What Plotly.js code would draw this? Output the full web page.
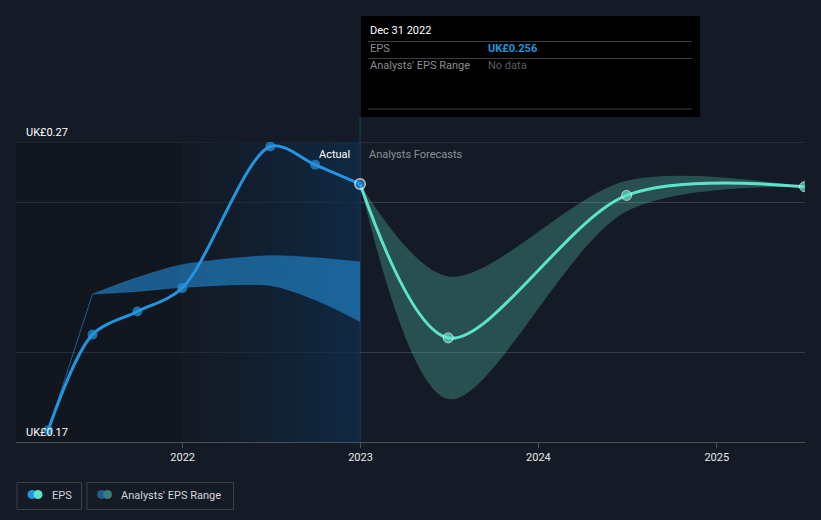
<!DOCTYPE html>
<html>
<head>
<meta charset="utf-8">
<script src="https://cdn.plot.ly/plotly-3.0.1.min.js"></script>
<style>
  html, body { margin: 0; padding: 0; background: #151b26; }
  #chart { width: 821px; height: 520px; }
</style>
</head>
<body>
<div id="chart"></div>
<script>
// ---- data ----
const epsDates = ['2021-03-31', '2021-06-30', '2021-09-30', '2021-12-31', '2022-06-30', '2022-09-30', '2022-12-31'];
const epsValues = [0.1739, 0.2058, 0.2135, 0.2213, 0.2685, 0.2624, 0.256];

const forecastDates = ['2022-12-31', '2023-06-30', '2024-06-30', '2025-06-30'];
const forecastValues = [0.256, 0.2047, 0.2522, 0.2551];

const pastRangeDates = ['2021-03-31', '2021-06-30', '2021-09-30', '2021-12-31', '2022-06-30', '2022-09-30', '2022-12-31'];
const pastRangeLow = [0.1739, 0.2193, 0.2202, 0.2215, 0.2222, 0.2174, 0.2102];
const pastRangeHigh = [0.1739, 0.2193, 0.2248, 0.2291, 0.2321, 0.2314, 0.2300];

const forecastRangeDates = ['2022-12-31', '2023-06-30', '2024-06-30', '2025-06-30'];
const forecastRangeLow = [0.256, 0.1843, 0.2469, 0.2551];
const forecastRangeHigh = [0.256, 0.2252, 0.2571, 0.2551];

const xTickVals = ['2022-01-01', '2023-01-01', '2024-01-01', '2025-01-01'];
const xTickText = ['2022', '2023', '2024', '2025'];
const yGridVals = [0.20, 0.25, 0.27];
const yRange = [0.17, 0.27];
const xRange = ['2021-01-24', '2025-07-01'];
const yLabelTop = 'UK£0.27';
const yLabelBottom = 'UK£0.17';

const tooltipDate = 'Dec 31 2022';
const tooltipEps = 'UK£0.256';
const tooltipRange = 'No data';
const pastStart = xRange[0];
const actualStart = '2021-12-31';
const todayDate = '2022-12-31';

// ---- layout helpers (pixel -> paper) ----
const M = { l: 16, r: 16, t: 142, b: 78 };
const W = 821, H = 520;
const PW = W - M.l - M.r, PH = H - M.t - M.b;
const px = x => (x - M.l) / PW;
const py = y => (H - M.b - y) / PH;

const BLUE = '#2394df';
const TEAL = '#5de2cb';
const FONT = 'Roboto, "Open Sans", sans-serif';

const traces = [
  // darker past background
  {
    x: [pastStart, actualStart, actualStart, pastStart, pastStart],
    y: [yRange[0], yRange[0], yRange[1], yRange[1], yRange[0]],
    mode: 'lines', line: { width: 0 }, fill: 'toself',
    fillcolor: 'rgba(10,12,18,0.3)',
    hoverinfo: 'skip', showlegend: false
  },
  // actual-year highlight
  {
    x: [actualStart, todayDate, todayDate, actualStart, actualStart],
    y: [yRange[0], yRange[0], yRange[1], yRange[1], yRange[0]],
    mode: 'lines', line: { width: 0 }, fill: 'toself',
    fillgradient: { type: 'horizontal', colorscale: [[0, 'rgba(16,24,34,0.5)'], [1, 'rgba(14,46,76,0.8)']] },
    hoverinfo: 'skip', showlegend: false
  },
  // past analyst range: thin lead-in where low == high
  {
    x: pastRangeDates.slice(0, 2), y: pastRangeHigh.slice(0, 2), mode: 'lines',
    line: { width: 1, color: 'rgba(35,120,190,0.75)' },
    hoverinfo: 'skip', showlegend: false
  },
  // past analyst range band
  {
    x: pastRangeDates.slice(1), y: pastRangeLow.slice(1), mode: 'lines',
    line: { width: 0.8, color: 'rgba(35,130,205,0.5)', shape: 'spline', smoothing: 0.8 },
    hoverinfo: 'skip', showlegend: false
  },
  {
    x: pastRangeDates.slice(1), y: pastRangeHigh.slice(1), mode: 'lines', fill: 'tonexty',
    fillcolor: 'rgba(35,140,215,0.6)',
    line: { width: 0.8, color: 'rgba(35,130,205,0.5)', shape: 'spline', smoothing: 0.8 },
    hoverinfo: 'skip', showlegend: false
  },
  // forecast analyst range
  {
    x: forecastRangeDates, y: forecastRangeLow, mode: 'lines',
    line: { width: 0, shape: 'spline', smoothing: 0.9 },
    hoverinfo: 'skip', showlegend: false
  },
  {
    x: forecastRangeDates, y: forecastRangeHigh, mode: 'lines', fill: 'tonexty',
    fillcolor: 'rgba(92,225,201,0.27)',
    line: { width: 0, shape: 'spline', smoothing: 0.9 },
    hoverinfo: 'skip', showlegend: false
  },
  // forecast EPS line
  {
    x: forecastDates, y: forecastValues, mode: 'lines+markers',
    line: { color: TEAL, width: 3, shape: 'spline', smoothing: 0.9 },
    marker: { color: TEAL, size: forecastDates.map((d, i) => i === 0 ? 0 : 10) },
    hoverinfo: 'skip', showlegend: false
  },
  // actual EPS line
  {
    x: epsDates, y: epsValues, mode: 'lines+markers',
    line: { color: BLUE, width: 3, shape: 'spline', smoothing: 0.9 },
    marker: {
      color: BLUE,
      size: epsDates.map((d, i) => i === epsDates.length - 1 ? 10.5 : 10),
      line: {
        color: epsDates.map((d, i) => i === epsDates.length - 1 ? '#ffffff' : BLUE),
        width: epsDates.map((d, i) => i === epsDates.length - 1 ? 1.5 : 0)
      }
    },
    hoverinfo: 'skip', showlegend: false
  }
];

const shapes = [
  // top gridline
  { type: 'line', xref: 'paper', yref: 'y', x0: 0, x1: 1, y0: yRange[1], y1: yRange[1],
    line: { color: '#3a404b', width: 1 }, layer: 'below' },
  // 2022 boundary line
  { type: 'line', xref: 'x', yref: 'paper', x0: actualStart, x1: actualStart, y0: 0, y1: 1,
    line: { color: '#1c2c3b', width: 1 }, layer: 'below' },
  // hover line at 2023
  { type: 'line', xref: 'x', yref: 'paper', x0: todayDate, x1: todayDate, y0: 0, y1: py(117),
    line: { color: '#1d4465', width: 1 }, layer: 'below' },
  // tooltip
  { type: 'rect', xref: 'paper', yref: 'paper', x0: px(361), x1: px(700), y0: py(117), y1: py(16),
    fillcolor: '#000000', line: { width: 0 } },
  { type: 'line', xref: 'paper', yref: 'paper', x0: px(368), x1: px(692), y0: py(41.5), y1: py(41.5),
    line: { color: '#3a3d42', width: 1 } },
  { type: 'line', xref: 'paper', yref: 'paper', x0: px(368), x1: px(692), y0: py(58.5), y1: py(58.5),
    line: { color: '#3a3d42', width: 1 } },
  { type: 'line', xref: 'paper', yref: 'paper', x0: px(368), x1: px(692), y0: py(109), y1: py(109),
    line: { color: '#3a3d42', width: 1 } },
  // legend boxes
  { type: 'rect', xref: 'paper', yref: 'paper', x0: px(17), x1: px(81.5), y0: py(509.5), y1: py(482.5),
    fillcolor: 'rgba(0,0,0,0)', line: { color: '#3b404a', width: 1 } },
  { type: 'rect', xref: 'paper', yref: 'paper', x0: px(87), x1: px(233.5), y0: py(509.5), y1: py(482.5),
    fillcolor: 'rgba(0,0,0,0)', line: { color: '#3b404a', width: 1 } },
];

function dot(cx, cy, color) {
  return { type: 'circle', xref: 'paper', yref: 'paper', xsizemode: 'pixel', ysizemode: 'pixel',
    xanchor: px(cx), yanchor: py(cy), x0: -4.5, x1: 4.5, y0: -4.5, y1: 4.5,
    fillcolor: color, line: { width: 0 } };
}
shapes.push(dot(32, 494.5, BLUE), dot(38, 494.5, TEAL));
shapes.push(dot(101.5, 494.5, '#1e5c8b'), dot(107.5, 494.5, '#3a7c79'));

function txt(x, y, text, color, opts) {
  return Object.assign({ xref: 'paper', yref: 'paper', x: px(x), y: py(y), text: text,
    showarrow: false, xanchor: 'left', yanchor: 'middle',
    font: { family: FONT, size: 11, color: color } }, opts || {});
}

const annotations = [
  { xref: 'paper', yref: 'y', x: px(24), y: yRange[1], yshift: 1, text: yLabelTop, showarrow: false,
    xanchor: 'left', yanchor: 'bottom', font: { family: FONT, size: 11, color: '#ffffff' } },
  { xref: 'paper', yref: 'y', x: px(24), y: yRange[0], yshift: 1, text: yLabelBottom, showarrow: false,
    xanchor: 'left', yanchor: 'bottom', font: { family: FONT, size: 11, color: '#ffffff' } },
  { xref: 'x', yref: 'paper', x: todayDate, y: py(154), xshift: -8, text: 'Actual', showarrow: false,
    xanchor: 'right', yanchor: 'middle', font: { family: FONT, size: 11, color: '#ffffff' } },
  { xref: 'x', yref: 'paper', x: todayDate, y: py(154), xshift: 7, text: 'Analysts Forecasts', showarrow: false,
    xanchor: 'left', yanchor: 'middle', font: { family: FONT, size: 11, color: '#8b9098' } },
  txt(368, 31, tooltipDate, '#ffffff'),
  txt(368, 49, 'EPS', '#8a8d92'),
  txt(486, 49, '<b>' + tooltipEps + '</b>', BLUE),
  txt(368, 66, "Analysts' EPS Range", '#8a8d92'),
  txt(486, 66, tooltipRange, '#5a5d63'),
  txt(50, 495, 'EPS', '#d2d5da'),
  txt(119, 495, "Analysts' EPS Range", '#d2d5da'),
];

const layout = {
  width: W, height: H,
  margin: M,
  paper_bgcolor: '#151b26',
  plot_bgcolor: '#151b26',
  showlegend: false,
  hovermode: false,
  xaxis: {
    type: 'date', range: xRange, tickvals: xTickVals, ticktext: xTickText,
    ticks: 'outside', ticklen: 5, tickcolor: '#4a4f58', tickwidth: 1,
    tickfont: { family: FONT, size: 11, color: '#e8e8e8' },
    showgrid: false, zeroline: false, showline: true, linecolor: '#4a4f58', linewidth: 1,
    fixedrange: true
  },
  yaxis: {
    range: yRange, tickvals: yGridVals, showticklabels: false,
    showgrid: true, gridcolor: '#363c47', gridwidth: 1, zeroline: false, showline: false,
    fixedrange: true
  },
  shapes: shapes,
  annotations: annotations,
  font: { family: FONT }
};

Plotly.newPlot('chart', traces, layout, { displayModeBar: false, staticPlot: true });
</script>
</body>
</html>
